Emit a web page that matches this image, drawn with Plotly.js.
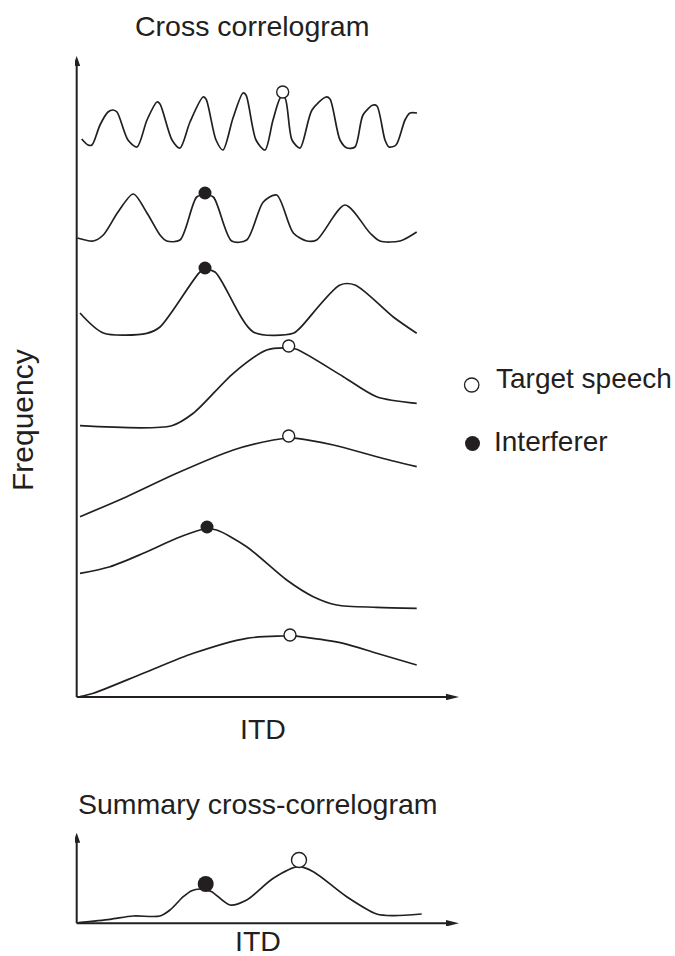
<!DOCTYPE html>
<html>
<head>
<meta charset="utf-8">
<script src="https://cdn.plot.ly/plotly-3.0.1.min.js"></script>
<style>html,body{margin:0;padding:0;background:#fff;}#chart{width:675px;height:956px;}</style>
</head>
<body>
<div id="chart"></div>
<script>
// ---- Cross-correlogram channels (ITD, response incl. channel offset), top to bottom ----
const ch1Itd  = [6.7,13,17,25,33,38,42,53,62,72,82,85,97,105,115,128,131,141,148,158,168,171,181,190,198,206,210,217,225,237,251,255,265,272,280,288,298,302,310,314,321,330,335,342];
const ch1Resp = [561,555,555,575,588,590,588,560,553,580,598,596,560,552,578,603,601,560,550,582,607,605,560,550,580,603,602,560,552,590,603,601,560,552,553,585,595,594,560,553,555,580,587,587];

const ch2Itd  = [2.3,18.3,28.3,43,58.3,72,85,91.7,105,121.7,130,138.3,156.7,171.7,188.3,201.7,218.3,231.7,241.7,270,295,305,325,341.7];
const ch2Resp = [462,459,465,488,506,487,465,459,460,503,505,503,459,460,498,505,467,459,460,495,467,459,459,468];

const ch3Itd  = [5,28.3,71.7,85,125,130,140,178.3,218.3,225,265,280,318.3,341.7];
const ch3Resp = [387,367,366.7,373,428,430,428,368,366.7,372,415,415,383,366.7];

const ch4Itd  = [5,96.7,118.3,158.3,191.7,213.7,221.7,268.3,301.7,341.7];
const ch4Resp = [274.3,274.3,286.7,326.7,350,352,350.7,323.3,303.3,296.7];

const ch5Itd  = [5,51.7,101.7,158.3,198.3,213.7,221.7,258.3,301.7,341.7];
const ch5Resp = [183.3,203.3,226.7,250,260,262,261.7,255,243.3,233.3];

const ch6Itd  = [5,35,68.3,101.7,125,132,141.7,171.7,211.7,238.3,261.7,301.7,341.7];
const ch6Resp = [126.7,133.3,146.7,161.7,170,171,170,153.3,120,103.3,95,92.7,91.7];

const ch7Itd  = [5,18.3,68.3,118.3,171.7,208.3,215,225,268.3,301.7,341.7];
const ch7Resp = [3.3,6.7,26.7,46.7,61.7,64,64.3,63.3,56.7,46.7,35];

// peaks: target speech (open) and interferer (filled)
const targetItd  = [207.7,213.7,213.7,215];
const targetResp = [608,354,264,65];
const interfItd  = [130,130,132];
const interfResp = [507,432,173];

// ---- Summary cross-correlogram ----
const sumItd  = [3.3,35,58.3,85,95,108.3,116.7,125,130.7,136.7,155,171.7,198.3,223.3,238.3,271.7,301.7,318.3,346.7];
const sumResp = [3.3,6.7,10,10,16,29.3,35.3,37,36,34.3,21,26,47.7,59.3,54.3,29.3,12,10.3,12];
const sumTargetItd = [224], sumTargetResp = [66];
const sumInterfItd = [130.7], sumInterfResp = [42];

const INK = '#231f20';
const FAMILY = 'Liberation Sans, Arial, Helvetica, sans-serif';
const FONT = {family: FAMILY, size: 28.5, color: INK};
const LEGFONT = {family: FAMILY, size: 28, color: INK};

const channels = [[ch1Itd,ch1Resp],[ch2Itd,ch2Resp],[ch3Itd,ch3Resp],[ch4Itd,ch4Resp],[ch5Itd,ch5Resp],[ch6Itd,ch6Resp],[ch7Itd,ch7Resp]];
const traces = [];
channels.forEach(c => traces.push({
  x: c[0], y: c[1], type: 'scatter', mode: 'lines',
  line: {color: INK, width: 1.7, shape: 'spline', smoothing: 0.8},
  cliponaxis: false, hoverinfo: 'skip'
}));
traces.push({x: targetItd, y: targetResp, type: 'scatter', mode: 'markers', cliponaxis: false,
  marker: {size: 12, color: '#ffffff', line: {color: INK, width: 1.4}}});
traces.push({x: interfItd, y: interfResp, type: 'scatter', mode: 'markers', cliponaxis: false,
  marker: {size: 13, color: INK, line: {color: INK, width: 0}}});

traces.push({x: sumItd, y: sumResp, xaxis: 'x2', yaxis: 'y2', type: 'scatter', mode: 'lines',
  line: {color: INK, width: 1.7, shape: 'spline', smoothing: 0.8}, cliponaxis: false});
traces.push({x: sumTargetItd, y: sumTargetResp, xaxis: 'x2', yaxis: 'y2', type: 'scatter', mode: 'markers', cliponaxis: false,
  marker: {size: 15, color: '#ffffff', line: {color: INK, width: 1.4}}});
traces.push({x: sumInterfItd, y: sumInterfResp, xaxis: 'x2', yaxis: 'y2', type: 'scatter', mode: 'markers', cliponaxis: false,
  marker: {size: 16, color: INK, line: {color: INK, width: 0}}});

const W = 675, H = 956;
const px = v => v / W;
const py = v => (H - v) / H;

const hidden = {visible: false, showgrid: false, zeroline: false, fixedrange: true};

function axisShapes(xr, yr, yTop, xTip, base) {
  return [
    {type: 'line', xref: xr, yref: yr, x0: 1.7, y0: base, x1: 1.7, y1: yTop - 8, line: {color: INK, width: 2}},
    {type: 'path', xref: xr, yref: yr, path: `M -1.8 ${yTop-10} L 5.2 ${yTop-10} L 1.7 ${yTop} Z`, fillcolor: INK, line: {color: INK, width: 0}},
    {type: 'line', xref: xr, yref: yr, x0: 1.7, y0: base, x1: xTip - 10, y1: base, line: {color: INK, width: 2}},
    {type: 'path', xref: xr, yref: yr, path: `M ${xTip-13} ${base-3.2} L ${xTip-13} ${base+3.2} L ${xTip} ${base} Z`, fillcolor: INK, line: {color: INK, width: 0}}
  ];
}

const shapes = [].concat(
  axisShapes('x', 'y', 644, 384, 3),
  axisShapes('x2', 'y2', 93.3, 384, 2.7),
  [
    {type: 'circle', xref: 'paper', yref: 'paper', x0: px(464.5), x1: px(478.9), y0: py(392), y1: py(378),
      fillcolor: '#ffffff', line: {color: INK, width: 1.3}},
    {type: 'circle', xref: 'paper', yref: 'paper', x0: px(465), x1: px(480), y0: py(451), y1: py(436),
      fillcolor: INK, line: {color: INK, width: 0}}
  ]
);

function label(text, x, y, opts) {
  return Object.assign({text: text, xref: 'paper', yref: 'paper', x: px(x), y: py(y),
    xanchor: 'center', yanchor: 'middle', showarrow: false, font: FONT}, opts || {});
}

const annotations = [
  label('Cross correlogram', 252, 25.5),
  label('Frequency', 22, 420, {textangle: -90, font: {family: FAMILY, size: 30, color: INK}}),
  label('ITD', 262.5, 729.3),
  label('Target speech', 493.5, 378, {xanchor: 'left', font: LEGFONT}),
  label('Interferer', 492, 442, {xanchor: 'left', font: LEGFONT}),
  label('Summary cross-correlogram', 257.8, 804),
  label('ITD', 257.8, 941)
];

const layout = {
  width: W, height: H,
  margin: {l: 0, r: 0, t: 0, b: 0},
  paper_bgcolor: '#ffffff', plot_bgcolor: '#ffffff',
  showlegend: false,
  xaxis: Object.assign({domain: [75 / W, 460 / W], range: [0, 385], anchor: 'y'}, hidden),
  yaxis: Object.assign({domain: [256 / H, 906 / H], range: [0, 650], anchor: 'x'}, hidden),
  xaxis2: Object.assign({domain: [75 / W, 460 / W], range: [0, 385], anchor: 'y2'}, hidden),
  yaxis2: Object.assign({domain: [30 / H, 130 / H], range: [0, 100], anchor: 'x2'}, hidden),
  shapes: shapes,
  annotations: annotations
};

Plotly.newPlot('chart', traces, layout, {staticPlot: true, displayModeBar: false});
</script>
</body>
</html>
